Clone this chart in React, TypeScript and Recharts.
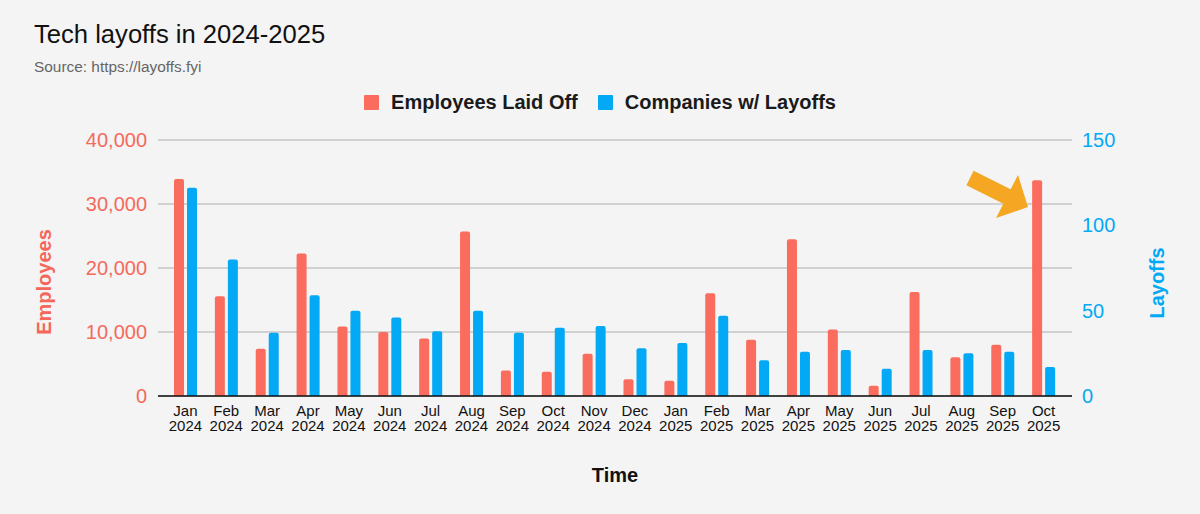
import { BarChart, Bar, XAxis, YAxis, CartesianGrid } from "recharts";

const months = [
  "Jan 2024", "Feb 2024", "Mar 2024", "Apr 2024", "May 2024", "Jun 2024",
  "Jul 2024", "Aug 2024", "Sep 2024", "Oct 2024", "Nov 2024", "Dec 2024",
  "Jan 2025", "Feb 2025", "Mar 2025", "Apr 2025", "May 2025", "Jun 2025",
  "Jul 2025", "Aug 2025", "Sep 2025", "Oct 2025",
];

const employeesLaidOff = [
  33900, 15600, 7400, 22250, 10850, 10000, 9000, 25700, 4000, 3800, 6600, 2600,
  2400, 16050, 8800, 24500, 10400, 1600, 16250, 6050, 8000, 33700,
];

const companiesWithLayoffs = [
  122, 80, 37, 59, 50, 46, 38, 50, 37, 40, 41, 28,
  31, 47, 21, 26, 27, 16, 27, 25, 26, 17,
];

const employeeTicks = [0, 10000, 20000, 30000, 40000];
const companyTicks = [0, 50, 100, 150];

const RED = "#fa6d5e";
const BLUE = "#03a9f4";
const FONT = "'Liberation Sans', Arial, Helvetica, sans-serif";

const data = months.map((month, i) => ({
  month,
  employees: employeesLaidOff[i],
  companies: companiesWithLayoffs[i],
}));

const legendItems = [
  { label: "Employees Laid Off", color: RED },
  { label: "Companies w/ Layoffs", color: BLUE },
];

function MonthTick(props: any) {
  const { x, y, payload } = props;
  const [m, yr] = String(payload.value).split(" ");
  return (
    <text x={x} y={y} textAnchor="middle" fill="#111" fontSize={15}>
      <tspan x={x} dy={20}>{m}</tspan>
      <tspan x={x} dy={15}>{yr}</tspan>
    </text>
  );
}

export default function App() {
  return (
    <div
      style={{
        position: "absolute",
        left: 0,
        top: 0,
        width: 1200,
        height: 514,
        background: "#f4f4f4",
        fontFamily: FONT,
        overflow: "hidden",
      }}
    >
      <div style={{ position: "absolute", left: 34, top: 20, fontSize: 25.6, color: "#111" }}>
        Tech layoffs in 2024-2025
      </div>
      <div style={{ position: "absolute", left: 34, top: 58, fontSize: 15.4, color: "#666" }}>
        Source: https://layoffs.fyi
      </div>

      <div
        style={{
          position: "absolute",
          left: 0,
          top: 90,
          width: 1200,
          display: "flex",
          justifyContent: "center",
          gap: 20,
          fontSize: 20,
          fontWeight: "bold",
          color: "#1a1a1a",
          lineHeight: "24px",
        }}
      >
        {legendItems.map((it) => (
          <div key={it.label} style={{ display: "flex", alignItems: "center", gap: 12 }}>
            <div style={{ width: 15, height: 15, background: it.color, borderRadius: 1 }} />
            <span>{it.label}</span>
          </div>
        ))}
      </div>

      <div style={{ position: "absolute", left: 0, top: 0 }}>
        <BarChart
          width={1200}
          height={514}
          data={data}
          margin={{ top: 140, right: 0, bottom: 0, left: 0 }}
          barSize={10}
          barGap={3}
        >
          <CartesianGrid yAxisId="left" vertical={false} stroke="#c6c6c6" strokeWidth={1.5} />
          <XAxis
            dataKey="month"
            interval={0}
            height={118}
            padding={{ left: 7, right: 8 }}
            tickLine={false}
            tickSize={0}
            tickMargin={0}
            axisLine={{ stroke: "#111", strokeWidth: 1.5 }}
            tick={(p: any) => <MonthTick {...p} />}
          />
          <YAxis
            yAxisId="left"
            orientation="left"
            width={158}
            domain={[0, 40000]}
            ticks={employeeTicks}
            tickFormatter={(v: number) => v.toLocaleString("en-US")}
            axisLine={false}
            tickLine={false}
            tickSize={0}
            tickMargin={11}
            tick={{ fill: "#f26a5b", fontSize: 20 }}
          />
          <YAxis
            yAxisId="right"
            orientation="right"
            width={128}
            domain={[0, 150]}
            ticks={companyTicks}
            axisLine={false}
            tickLine={false}
            tickSize={0}
            tickMargin={10}
            tick={{ fill: BLUE, fontSize: 20 }}
          />
          <Bar
            yAxisId="left"
            dataKey="employees"
            name="Employees Laid Off"
            fill={RED}
            radius={[2, 2, 0, 0]}
            isAnimationActive={false}
          />
          <Bar
            yAxisId="right"
            dataKey="companies"
            name="Companies w/ Layoffs"
            fill={BLUE}
            radius={[2, 2, 0, 0]}
            isAnimationActive={false}
          />
        </BarChart>
      </div>

      <svg
        width={1200}
        height={514}
        style={{ position: "absolute", left: 0, top: 0, pointerEvents: "none" }}
      >
        <text
          x={43.5}
          y={282}
          transform="rotate(-90 43.5 282)"
          textAnchor="middle"
          dominantBaseline="central"
          fontSize={20}
          fontWeight="bold"
          fill="#f4675a"
        >
          Employees
        </text>
        <text
          x={1157}
          y={283}
          transform="rotate(-90 1157 283)"
          textAnchor="middle"
          dominantBaseline="central"
          fontSize={20}
          fontWeight="bold"
          fill={BLUE}
        >
          Layoffs
        </text>
        <text x={615} y={482} textAnchor="middle" fontSize={20} fontWeight="bold" fill="#111">
          Time
        </text>
        {/* annotation arrow pointing at the Oct 2025 spike */}
        <polygon
          points="973.6,170.8 1010.6,189.3 1018,175 1028,207 996,218 1003.4,203.7 966.4,185.2"
          fill="#f5a623"
        />
      </svg>
    </div>
  );
}
